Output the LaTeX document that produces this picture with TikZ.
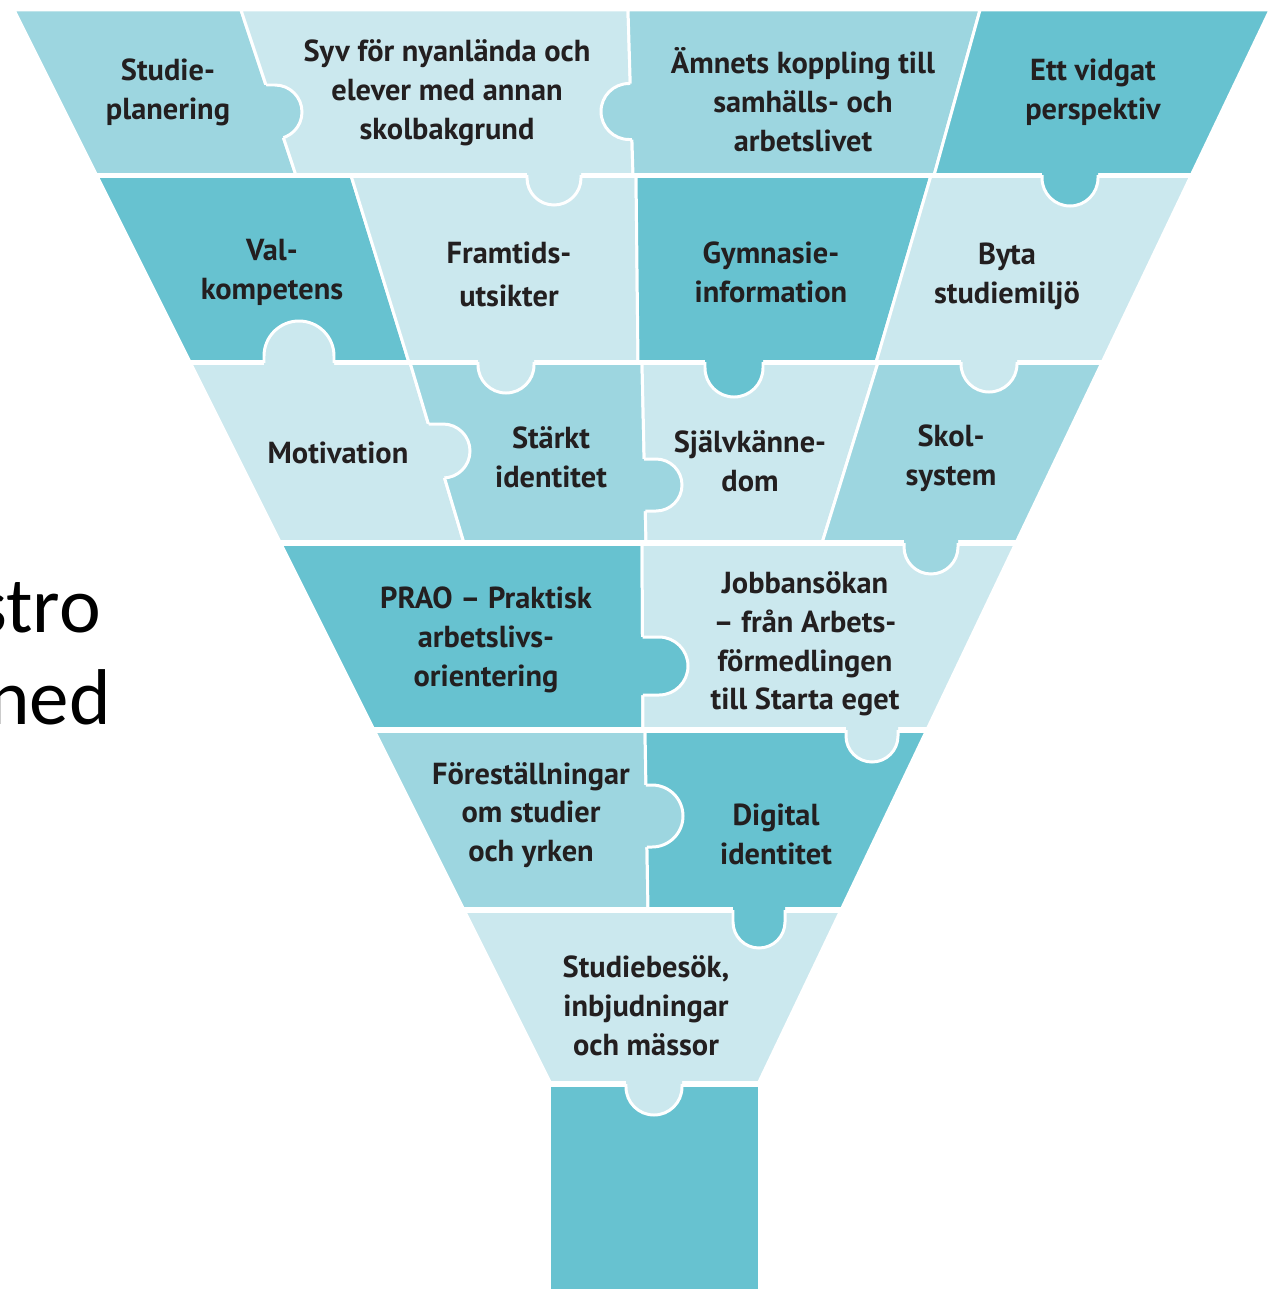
\documentclass[tikz,border=0pt]{standalone}
\usepackage{fontspec}
\setmainfont{PT Sans}
\newfontfamily\slidefont{Carlito}
\definecolor{cdark}{RGB}{103,194,208}
\definecolor{cmed}{RGB}{157,214,224}
\definecolor{clight}{RGB}{203,232,238}
\definecolor{ctext}{RGB}{35,31,32}
\tikzset{
  piece/.style={draw=white, line width=1.7pt, line join=round},
  gapline/.style={draw=white, line width=2.9pt},
  knobline/.style={draw=white, line width=1.7pt},
  lbl/.style={align=center, font=\fontsize{17.3}{22.1}\selectfont\bfseries, text=ctext, inner sep=0pt},
}
% down-pointing tab: colour, cx, cy, r, base
\newcommand{\knobD}[5]{%
  \fill[#1] ({#2-#4},{#5-10}) -- ({#2-#4},{#3}) arc[start angle=180,end angle=0,radius=#4] -- ({#2+#4},{#5-10}) -- cycle;
  \begin{scope}
    \clip ({#2-#4-10},{#5}) rectangle ({#2+#4+10},{#3+#4+10});
    \draw[knobline] ({#2-#4},{#5-10}) -- ({#2-#4},{#3}) arc[start angle=180,end angle=0,radius=#4] -- ({#2+#4},{#5-10});
  \end{scope}}
% up-pointing tab
\newcommand{\knobU}[5]{%
  \fill[#1] ({#2-#4},{#5+10}) -- ({#2-#4},{#3}) arc[start angle=180,end angle=360,radius=#4] -- ({#2+#4},{#5+10}) -- cycle;
  \begin{scope}
    \clip ({#2-#4-10},{#5}) rectangle ({#2+#4+10},{#3-#4-10});
    \draw[knobline] ({#2-#4},{#5+10}) -- ({#2-#4},{#3}) arc[start angle=180,end angle=360,radius=#4] -- ({#2+#4},{#5+10});
  \end{scope}}
% right-pointing tab: colour, cx, cy, r, divider x1,y1,x2,y2
\newcommand{\knobR}[8]{%
  \fill[#1] ({#2-30},{#3-#4}) -- ({#2},{#3-#4}) arc[start angle=-90,end angle=90,radius=#4] -- ({#2-30},{#3+#4}) -- cycle;
  \begin{scope}
    \clip (#5,#6) -- (#7,#8) -- ({#7+200},#8) -- ({#5+200},#6) -- cycle;
    \draw[knobline] ({#2-30},{#3-#4}) -- ({#2},{#3-#4}) arc[start angle=-90,end angle=90,radius=#4] -- ({#2-30},{#3+#4});
  \end{scope}}
% left-pointing tab
\newcommand{\knobL}[8]{%
  \fill[#1] ({#2+30},{#3-#4}) -- ({#2},{#3-#4}) arc[start angle=-90,end angle=-270,radius=#4] -- ({#2+30},{#3+#4}) -- cycle;
  \begin{scope}
    \clip (#5,#6) -- (#7,#8) -- ({#7-200},#8) -- ({#5-200},#6) -- cycle;
    \draw[knobline] ({#2+30},{#3-#4}) -- ({#2},{#3-#4}) arc[start angle=-90,end angle=-270,radius=#4] -- ({#2+30},{#3+#4});
  \end{scope}}
\begin{document}
\begin{tikzpicture}[x=0.02cm,y=-0.02cm]
\useasboundingbox (0,0) rectangle (1271,1289);
\fill[white] (0,0) rectangle (1271,1289);
% row 1
\filldraw[piece,fill=cmed]   (14,10) -- (241,10) -- (296,175.5) -- (96.75,175.5) -- cycle;
\filldraw[piece,fill=clight] (241,10) -- (628,10) -- (633,175.5) -- (296,175.5) -- cycle;
\filldraw[piece,fill=cmed]   (628,10) -- (980,10) -- (934,175.5) -- (633,175.5) -- cycle;
\filldraw[piece,fill=cdark]  (980,10) -- (1270,10) -- (1191.1,175.5) -- (934,175.5) -- cycle;
% row 2
\filldraw[piece,fill=cdark]  (96.75,175.5) -- (351,175.5) -- (409,362.5) -- (190.25,362.5) -- cycle;
\filldraw[piece,fill=clight] (351,175.5) -- (636,175.5) -- (638,362.5) -- (409,362.5) -- cycle;
\filldraw[piece,fill=cdark]  (636,175.5) -- (931,175.5) -- (876,362.5) -- (638,362.5) -- cycle;
\filldraw[piece,fill=clight] (931,175.5) -- (1191.1,175.5) -- (1102,362.5) -- (876,362.5) -- cycle;
% row 3
\filldraw[piece,fill=clight] (190.25,362.5) -- (410,362.5) -- (464,543) -- (280.5,543) -- cycle;
\filldraw[piece,fill=cmed]   (410,362.5) -- (642,362.5) -- (646,543) -- (464,543) -- cycle;
\filldraw[piece,fill=clight] (642,362.5) -- (878,362.5) -- (822,543) -- (646,543) -- cycle;
\filldraw[piece,fill=cmed]   (878,362.5) -- (1102,362.5) -- (1015.9,543) -- (822,543) -- cycle;
% row 4
\filldraw[piece,fill=cdark]  (280.5,543) -- (642,543) -- (643,730) -- (374,730) -- cycle;
\filldraw[piece,fill=clight] (642,543) -- (1015.9,543) -- (926.8,730) -- (643,730) -- cycle;
% row 5
\filldraw[piece,fill=cmed]   (374,730) -- (645,730) -- (648,910) -- (464,910) -- cycle;
\filldraw[piece,fill=cdark]  (645,730) -- (926.8,730) -- (841,910) -- (648,910) -- cycle;
% row 6
\filldraw[piece,fill=clight] (464,910) -- (841,910) -- (758,1084) -- (551,1084) -- cycle;
% stem
\fill[cdark] (551,1084) rectangle (758,1289);
% row gaps
\foreach \yy in {175.5,362.5,543,730,910,1084} \draw[gapline] (0,\yy) -- (1271,\yy);
% tabs
\knobR{cmed}{275}{112}{27}{241}{10}{296}{175.5}
\knobL{cmed}{629}{111.5}{28}{628}{10}{633}{175.5}
\knobD{clight}{554}{178}{27}{175.5}
\knobD{cdark}{1070}{178}{28}{175.5}
\knobU{clight}{299}{356}{35}{362.5}
\knobD{clight}{506}{365}{28}{362.5}
\knobD{cdark}{734}{368}{29}{362.5}
\knobD{clight}{989}{364}{28}{362.5}
\knobR{clight}{443}{451}{27}{410}{362.5}{464}{543}
\knobR{cmed}{656}{485}{26}{642}{362.5}{646}{543}
\knobD{cmed}{931}{547}{27}{543}
\knobR{cdark}{659}{666}{29}{642}{543}{643}{730}
\knobD{clight}{872}{736}{26}{730}
\knobR{cmed}{652}{816}{31}{645}{730}{648}{910}
\knobD{cdark}{759}{922}{26}{910}
\knobD{clight}{654}{1087}{28}{1084}
% labels
\node[lbl] (n11) at (168,92) {Studie-\\planering};
\node[lbl] (n12) at (447,93) {Syv för nyanlända och\\elever med annan\\skolbakgrund};
\node[lbl] (n13) at (803,100) {Ämnets koppling till\\samhälls- och\\arbetslivet};
\node[lbl] (n14) at (1093,92) {Ett vidgat\\perspektiv};
\node[lbl] (n21) at (272,272) {Val-\\kompetens};
\node[lbl] (n22) at (509,274) {Framtids-\\[2.3pt]utsikter};
\node[lbl] (n23) at (771,272) {Gymnasie-\\information};
\node[lbl] (n24) at (1007,276) {Byta\\studiemiljö};
\node[lbl] (n31) at (338,453) {Motivation};
\node[lbl] (n32) at (551,457) {Stärkt\\identitet};
\node[lbl] (n33) at (750,461) {Självkänne-\\dom};
\node[lbl] (n34) at (951,458) {Skol-\\system};
\node[lbl] (n41) at (486,640) {PRAO – Praktisk\\arbetslivs-\\orientering};
\node[lbl] (n42) at (805,644) {Jobbansökan\\– från Arbets-\\förmedlingen\\till Starta eget};
\node[lbl] (n51) at (531,815) {Föreställningar\\om studier\\och yrken};
\node[lbl] (n52) at (776,834) {Digital\\identitet};
\node[lbl] (n61) at (646,1006) {Studiebesök,\\inbjudningar\\och mässor};
% slide text at the left edge
\node[anchor=base east, inner sep=0pt, font=\slidefont\fontsize{45}{52}\selectfont] (s1) at (101,632) {stro};
\node[anchor=base east, inner sep=0pt, font=\slidefont\fontsize{45}{52}\selectfont] (s2) at (111,724) {ned};
\end{tikzpicture}
\end{document}
